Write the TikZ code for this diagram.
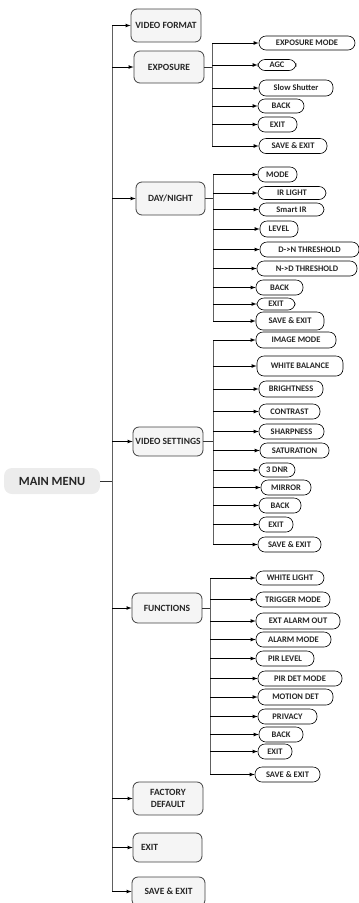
\documentclass[tikz,border=0pt]{standalone}
\usepackage{fontspec}
\setmainfont{Carlito}
\tikzset{
  menu/.style   = {shape=rectangle, rounded corners=8pt, fill=gray!15,
                   font=\fontsize{12.5}{12.5}\selectfont\bfseries, text=black!85},
  group/.style  = {shape=rectangle, rounded corners=6pt, draw=black!75,
                   line width=0.8pt, fill=gray!8, align=center, inner sep=1pt,
                   font=\fontsize{9.5}{11.5}\selectfont\bfseries, text=black!85},
  leaf/.style   = {shape=rectangle, rounded corners=7pt, draw=black,
                   line width=0.6pt, fill=white, inner sep=1pt,
                   font=\fontsize{8.5}{8.5}\selectfont\bfseries, text=black!85},
  trunk/.style  = {draw=gray!75!black, line width=1pt},
  branch/.style = {draw=black!80, line width=0.7pt},
  link/.style   = {draw, line width=0.75pt, -latex}
}

\begin{document}
\begin{tikzpicture}[x=1pt, y=-1pt]
  \useasboundingbox (0,0) rectangle (359,903);

  % main menu and first level
  \node [menu, minimum width=96, minimum height=26] (main) at (52,481) {MAIN MENU};
  \coordinate (trunk) at (112,481);
  \node [group, minimum width=70, minimum height=33] (vf)  at (166,25.5)  {VIDEO FORMAT};
  \node [group, minimum width=70, minimum height=32] (exp) at (169,67)    {EXPOSURE};
  \node [group, minimum width=69, minimum height=33] (dn)  at (170.5,198.5) {DAY/NIGHT};
  \node [group, minimum width=70, minimum height=29] (vs)  at (168,441.5) {VIDEO SETTINGS};
  \node [group, minimum width=70, minimum height=30] (fn)  at (167,608)   {FUNCTIONS};
  \node [group, minimum width=70, minimum height=33] (fd)  at (168,798.5) {FACTORY\\DEFAULT};
  \node [group, text width=53, inner xsep=8pt, align=left, minimum height=29]
        (ex) at (167.5,847.5) {EXIT};
  \node [group, minimum width=73, minimum height=29] (se)  at (168.5,891.5) {SAVE \& EXIT};

  \draw [trunk] (trunk |- vf.west) -- (trunk |- se.west);
  \draw [branch] (main.east) -- (trunk);
  \foreach \n in {vf,exp,dn,vs,fn,fd,ex,se}
    \draw [link] (trunk |- \n.west) -- (\n.west);

  % exposure
  \coordinate (b1) at (212,0);
  \foreach \n/\x/\y/\w/\h/\t in {
      em/307/43/96/14/EXPOSURE MODE, agc/277/65/38/11/AGC,
      ss/296/88/74/16/Slow Shutter, bk1/281/106/46/14/BACK,
      et1/277.5/124.5/39/15/EXIT, sx1/293/146/68/15/SAVE \& EXIT}
    \node [leaf, minimum width=\w, minimum height=\h] (\n) at (\x,\y) {\t};
  \draw [branch] (exp.east) -- (exp.east -| b1);
  \draw [trunk, line width=0.8pt] (b1 |- em.west) -- (b1 |- sx1.west);
  \foreach \n in {em,agc,ss,bk1,et1,sx1}
    \draw [link] (b1 |- \n.west) -- (\n.west);

  % day/night
  \coordinate (b2) at (213,0);
  \foreach \n/\x/\y/\w/\h/\t in {
      mode/277.5/174.5/39/15/MODE, irl/292/193/68/13/IR LIGHT,
      sir/291.5/209.5/65/13/Smart IR, lvl/279/229/38/16/LEVEL,
      dnt/309.5/249.5/99/15/D->N THRESHOLD, ndt/307/268.5/100/15/N->D THRESHOLD,
      bk2/279.5/287.5/47/15/BACK, et2/276/304/38/12/EXIT,
      sx2/290/321/68/18/SAVE \& EXIT}
    \node [leaf, minimum width=\w, minimum height=\h] (\n) at (\x,\y) {\t};
  \draw [branch] (dn.east) -- (dn.east -| b2);
  \draw [trunk, line width=0.8pt] (b2 |- mode.west) -- (b2 |- sx2.west);
  \foreach \n in {mode,irl,sir,lvl,dnt,ndt,bk2,et2,sx2}
    \draw [link] (b2 |- \n.west) -- (\n.west);

  % video settings
  \coordinate (b3) at (213,0);
  \foreach \n/\x/\y/\w/\h/\t in {
      im/296/340/80/16/IMAGE MODE, wb/300/366/86/20/WHITE BALANCE,
      br/291/389/64/16/BRIGHTNESS, ct/289.5/411.5/61/15/CONTRAST,
      sh/291.5/431.5/65/15/SHARPNESS, sa/294.5/450.5/69/15/SATURATION,
      dnr/277/470/36/14/3 DNR, mi/286/487.5/50/15/MIRROR,
      bk3/280/505.5/42/15/BACK, et3/276/524.5/34/15/EXIT,
      sx3/289.5/544.5/63/15/SAVE \& EXIT}
    \node [leaf, minimum width=\w, minimum height=\h] (\n) at (\x,\y) {\t};
  \draw [branch] (vs.east) -- (vs.east -| b3);
  \draw [trunk, line width=0.8pt] (b3 |- im.west) -- (b3 |- sx3.west);
  \foreach \n in {im,wb,br,ct,sh,sa,dnr,mi,bk3,et3,sx3}
    \draw [link] (b3 |- \n.west) -- (\n.west);

  % functions
  \coordinate (b4) at (210,0);
  \foreach \n/\x/\y/\w/\h/\t in {
      wl/290/578/68/14/WHITE LIGHT, tm/293/599.5/74/15/TRIGGER MODE,
      eao/298/621/84/16/EXT ALARM OUT, am/293.5/639.5/75/15/ALARM MODE,
      pl/285/658.5/58/15/PIR LEVEL, pdm/300/678.5/84/15/PIR DET MODE,
      md/295.5/697/75/16/MOTION DET, pv/287.5/716.5/59/15/PRIVACY,
      bk4/281/734.5/44/15/BACK, et4/275/751.5/34/15/EXIT,
      sx4/287.5/774.5/65/15/SAVE \& EXIT}
    \node [leaf, minimum width=\w, minimum height=\h] (\n) at (\x,\y) {\t};
  \draw [branch] (fn.east) -- (fn.east -| b4);
  \draw [trunk, line width=0.8pt] (b4 |- wl.west) -- (b4 |- sx4.west);
  \foreach \n in {wl,tm,eao,am,pl,pdm,md,pv,bk4,et4,sx4}
    \draw [link] (b4 |- \n.west) -- (\n.west);
\end{tikzpicture}
\end{document}
